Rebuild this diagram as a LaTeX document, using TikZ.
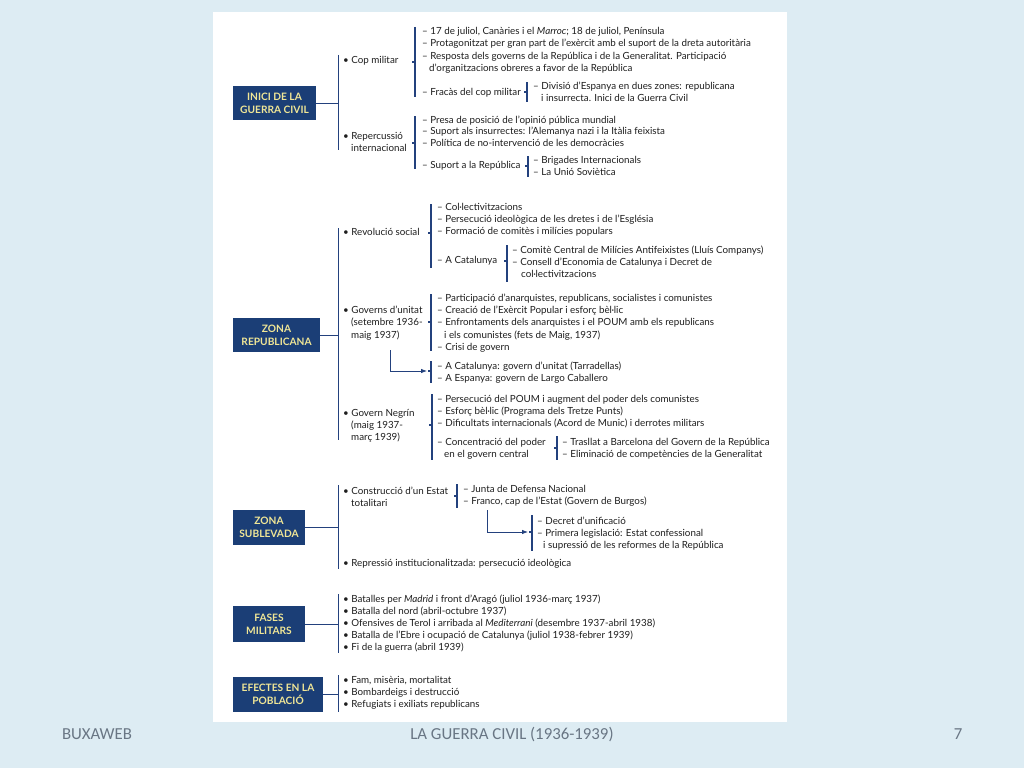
\documentclass[tikz,border=0pt]{standalone}
\usepackage{fontspec}
\setmainfont{Lato}
\newfontfamily\footfont{Carlito}
\usetikzlibrary{arrows.meta}
\definecolor{bg}{RGB}{221,236,243}
\definecolor{boxc}{RGB}{27,62,118}
\definecolor{boxt}{RGB}{240,230,150}
\definecolor{linec}{RGB}{35,65,125}
\definecolor{txtc}{RGB}{30,30,30}
\definecolor{footc}{RGB}{105,118,132}
\newcommand\T[4]{\node[txt] (#1) at ({#2},{#3+3.3}) {#4};}
\newcommand\Tk[2]{\draw[brk] (#1,#2) -- ++(-3,0);}
\newcommand\Br[4]{\coordinate (#1t) at (#2,#3); \coordinate (#1b) at (#2,#4); \draw[brk] (#1t) -- (#1b);}
\newcommand\Mb[4]{\coordinate (#1t) at (#2,#3); \coordinate (#1b) at (#2,#4); \draw[bar] (#1t) -- (#1b);}
\begin{document}
\begin{tikzpicture}[x=1pt,y=-1pt,
 txt/.style={anchor=base west,inner sep=0,font=\fontsize{9.8}{12}\selectfont,text=txtc},
 hbox/.style={fill=boxc,text=boxt,font=\fontsize{10.2}{13}\selectfont\bfseries,align=center,inner sep=0},
 bar/.style={draw=linec,line width=0.9pt},
 brk/.style={draw=linec,line width=1.1pt},
 arr/.style={draw=linec,line width=0.8pt,-{Latex[length=6pt,width=4.5pt]}},
 foot/.style={font=\footfont\fontsize{16.8}{18}\selectfont,text=footc,anchor=base}]
\useasboundingbox (0,0) rectangle (1024,768);
\fill[bg] (0,0) rectangle (1024,768);
\fill[white] (213,12) rectangle (787,722);

% ---------- INICI DE LA GUERRA CIVIL ----------
\node[hbox,minimum width=83pt,minimum height=34pt] (inici) at (274.5,103) {INICI DE LA\\GUERRA CIVIL};
\Mb{m1}{338}{55}{150}
\draw[bar] (inici.east) -- (inici.east -| m1t);
\T{cop}{343}{60}{• Cop militar}
\Br{bA}{415}{27}{97}\Tk{415}{62}
\T{a1}{422}{31}{– 17 de juliol, Canàries i el \textit{Marroc}; 18 de juliol, Península}
\T{a2}{422}{43}{– Protagonitzat per gran part de l'exèrcit amb el suport de la dreta autoritària}
\T{a3}{422}{56}{– Resposta dels governs de la República i de la Generalitat. Participació}
\T{a3b}{429}{68}{d'organitzacions obreres a favor de la República}
\T{a4}{422}{92}{– Fracàs del cop militar}
\Br{bB}{527}{82}{102}\Tk{527}{92}
\T{b1}{533}{86}{– Divisió d'Espanya en dues zones: republicana}
\T{b1b}{541}{98}{i insurrecta. Inici de la Guerra Civil}
\T{rep}{343}{136}{• Repercussió}
\T{repb}{351}{148}{internacional}
\Br{bC}{415}{116}{169}\Tk{415}{143}
\T{c1}{422}{120}{– Presa de posició de l'opinió pública mundial}
\T{c2}{422}{131}{– Suport als insurrectes: l'Alemanya nazi i la Itàlia feixista}
\T{c3}{422}{143}{– Política de no-intervenció de les democràcies}
\T{c4}{422}{165}{– Suport a la República}
\Br{bD}{528}{156}{177}\Tk{528}{166}
\T{d1}{533}{160}{– Brigades Internacionals}
\T{d2}{533}{172}{– La Unió Soviètica}

% ---------- ZONA REPUBLICANA ----------
\node[hbox,minimum width=87pt,minimum height=34pt] (repu) at (276.5,335) {ZONA\\REPUBLICANA};
\Mb{m2}{338}{228}{440}
\draw[bar] (repu.east) -- (repu.east -| m2t);
\T{rev}{343}{232}{• Revolució social}
\Br{bE}{431}{204}{268}\Tk{431}{233}
\T{e1}{437}{207}{– Col·lectivitzacions}
\T{e2}{437}{219}{– Persecució ideològica de les dretes i de l'Església}
\T{e3}{437}{231}{– Formació de comitès i milícies populars}
\T{e4}{437}{260}{– A Catalunya}
\Br{bF}{507}{245}{282}\Tk{507}{261}
\T{f1}{512}{250}{– Comitè Central de Milícies Antifeixistes (Lluís Companys)}
\T{f2}{512}{262}{– Consell d'Economia de Catalunya i Decret de}
\T{f2b}{521}{274}{col·lectivitzacions}
\T{gov}{343}{310}{• Governs d'unitat}
\T{govb}{351}{322}{(setembre 1936-}
\T{govc}{351}{335}{maig 1937)}
\Br{bG}{431}{294}{351}\Tk{431}{322}
\T{g1}{437}{298}{– Participació d'anarquistes, republicans, socialistes i comunistes}
\T{g2}{437}{310}{– Creació de l'Exèrcit Popular i esforç bèl·lic}
\T{g3}{437}{322}{– Enfrontaments dels anarquistes i el POUM amb els republicans}
\T{g3b}{444}{335}{i els comunistes (fets de Maig, 1937)}
\T{g4}{437}{347}{– Crisi de govern}
\coordinate (ar1s) at (390,350);
\coordinate (ar1e) at (427,371);
\draw[arr] (ar1s) |- (ar1e);
\Br{bH}{431}{361}{383}\Tk{431}{371}
\T{h1}{437}{366}{– A Catalunya: govern d'unitat (Tarradellas)}
\T{h2}{437}{378}{– A Espanya: govern de Largo Caballero}
\T{neg}{343}{413}{• Govern Negrín}
\T{negb}{351}{425}{(maig 1937-}
\T{negc}{351}{437}{març 1939)}
\Br{bI}{432}{394}{460}\Tk{432}{425}
\T{i1}{437}{399}{– Persecució del POUM i augment del poder dels comunistes}
\T{i2}{437}{411}{– Esforç bèl·lic (Programa dels Tretze Punts)}
\T{i3}{437}{423}{– Dificultats internacionals (Acord de Munic) i derrotes militars}
\T{i4}{437}{442}{– Concentració del poder}
\T{i4b}{444}{454}{en el govern central}
\Br{bJ}{557}{436}{460}\Tk{557}{448}
\T{j1}{562}{442}{– Trasllat a Barcelona del Govern de la República}
\T{j2}{562}{454}{– Eliminació de competències de la Generalitat}

% ---------- ZONA SUBLEVADA ----------
\node[hbox,minimum width=72pt,minimum height=35pt] (sub) at (269,527.5) {ZONA\\SUBLEVADA};
\Mb{m3}{338}{485}{569}
\draw[bar] (sub.east) -- (sub.east -| m3t);
\T{con}{343}{491}{• Construcció d'un Estat}
\T{conb}{351}{503}{totalitari}
\Br{bK}{457}{484}{508}\Tk{457}{496}
\T{k1}{463}{489}{– Junta de Defensa Nacional}
\T{k2}{463}{501}{– Franco, cap de l'Estat (Govern de Burgos)}
\coordinate (ar2s) at (487,510);
\coordinate (ar2e) at (528,532);
\draw[arr] (ar2s) |- (ar2e);
\Br{bL}{532}{515}{551}\Tk{532}{532}
\T{l1}{537}{521}{– Decret d'unificació}
\T{l2}{537}{533}{– Primera legislació: Estat confessional}
\T{l2b}{543}{545}{i supressió de les reformes de la República}
\T{repr}{343}{563}{• Repressió institucionalitzada: persecució ideològica}

% ---------- FASES MILITARS ----------
\node[hbox,minimum width=72pt,minimum height=36pt] (fas) at (269,624) {FASES\\MILITARS};
\Mb{m4}{338}{594}{653}
\draw[bar] (fas.east) -- (fas.east -| m4t);
\T{p1}{343}{599}{• Batalles per \textit{Madrid} i front d'Aragó (juliol 1936-març 1937)}
\T{p2}{343}{611}{• Batalla del nord (abril-octubre 1937)}
\T{p3}{343}{623}{• Ofensives de Terol i arribada al \textit{Mediterrani} (desembre 1937-abril 1938)}
\T{p4}{343}{635}{• Batalla de l'Ebre i ocupació de Catalunya (juliol 1938-febrer 1939)}
\T{p5}{343}{647}{• Fi de la guerra (abril 1939)}

% ---------- EFECTES EN LA POBLACIÓ ----------
\node[hbox,minimum width=90pt,minimum height=35pt] (efe) at (278,694.5) {EFECTES EN LA\\POBLACIÓ};
\Mb{m5}{338}{675}{712}
\draw[bar] (efe.east) -- (efe.east -| m5t);
\T{q1}{343}{680}{• Fam, misèria, mortalitat}
\T{q2}{343}{692}{• Bombardeigs i destrucció}
\T{q3}{343}{704}{• Refugiats i exiliats republicans}

% ---------- footer ----------
\node[foot] (f1) at (97,739) {BUXAWEB};
\node[foot] (f2) at (512,739) {LA GUERRA CIVIL (1936-1939)};
\node[foot] (f3) at (958,739) {7};
\end{tikzpicture}
\end{document}
